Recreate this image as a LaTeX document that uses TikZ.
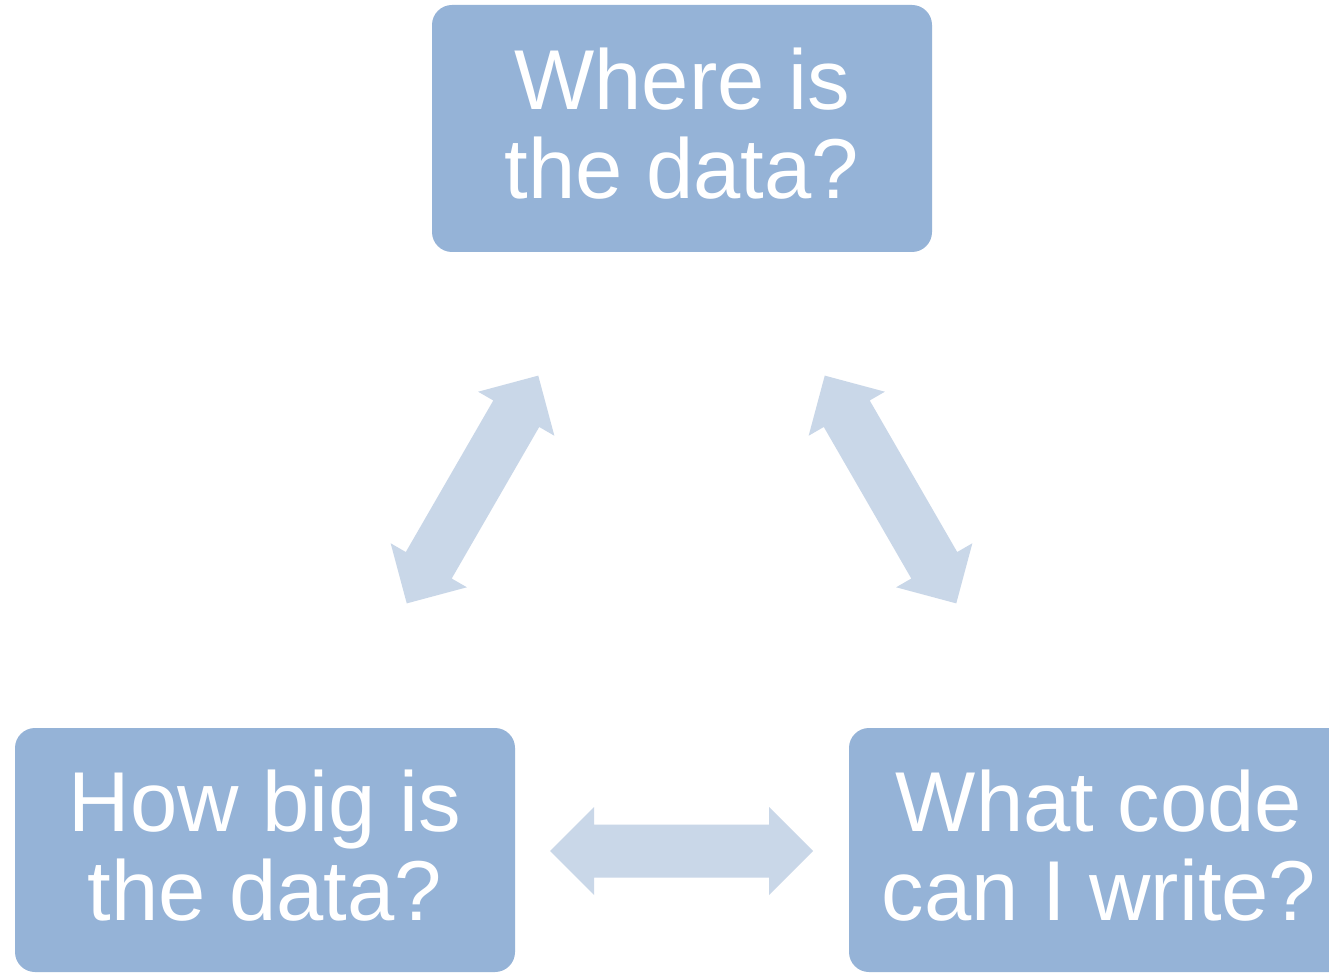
\documentclass[tikz,border=0pt]{standalone}
\usepackage{fontspec}
\setmainfont{Liberation Sans}
\definecolor{boxblue}{HTML}{95B3D7}
\definecolor{arrowblue}{HTML}{C9D7E8}
\newcommand\myblockarrow[3]{%
  \fill[blockarrow, shift={(#1,#2)}, rotate=#3]
    (-131.5,0) -- (-87.5,44) -- (-87.5,26.5) -- (87.5,26.5) -- (87.5,44) --
    (131.5,0) -- (87.5,-44) -- (87.5,-26.5) -- (-87.5,-26.5) -- (-87.5,-44) -- cycle;}
\begin{document}
\begin{tikzpicture}[x=1pt,y=-1pt,
  qbox/.style={fill=boxblue, draw=none, rounded corners=20pt, minimum width=500pt, inner sep=0pt},
  qtext/.style={text=white, align=center, inner sep=0pt, font=\fontsize{85}{89}\selectfont},
  blockarrow/.style={fill=arrowblue, draw=none}]
\useasboundingbox (0,0) rectangle (1329,973);
\clip (0,0) rectangle (1329,973);
\fill[white] (0,0) rectangle (1329,973);
% boxes
\node[qbox, minimum height=247pt] (where) at (682,128.5) {};
\node[qtext] (wheretext) at ([yshift=4.5pt]where.center) {Where is\\the data?};
\node[qbox, minimum height=244pt] (howbig) at (265,850) {};
\node[qtext] (howbigtext) at ([yshift=4pt]howbig.center) {How big is\\the data?};
\node[qbox, minimum height=244pt] (whatcode) at (1099,850) {};
\node[qtext] (whatcodetext) at ([yshift=4pt]whatcode.center) {What code\\can I write?};
% arrows
\myblockarrow{681.5}{851}{0}
\myblockarrow{472.5}{489.5}{60}
\myblockarrow{890.5}{489.5}{-60}
\end{tikzpicture}
\end{document}
